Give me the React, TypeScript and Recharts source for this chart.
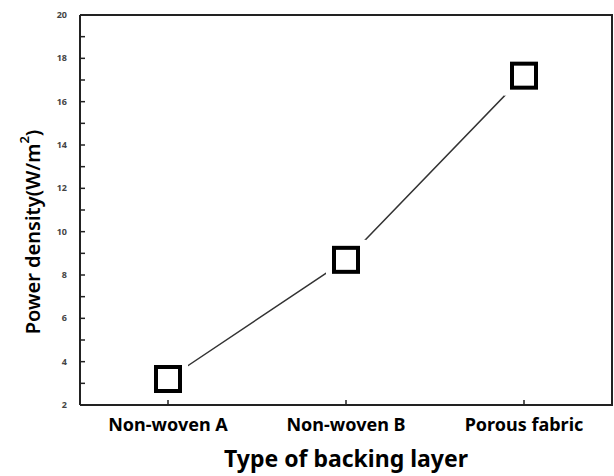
import React from 'react';
import { LineChart, Line, XAxis, YAxis } from 'recharts';

const categories = ['Non-woven A', 'Non-woven B', 'Porous fabric'];
const powerDensity = [3.2, 8.7, 17.2];
const yTicks = [2, 3, 4, 5, 6, 7, 8, 9, 10, 11, 12, 13, 14, 15, 16, 17, 18, 19, 20];
const yLabelTicks = [2, 4, 6, 8, 10, 12, 14, 16, 18, 20];

const data = categories.map((name, i) => ({ name, value: powerDensity[i] }));

const FONT = '"Noto Sans", "Open Sans", sans-serif';
const MARGIN_TOP = 15;
const MARGIN_RIGHT = 2;
const Y_AXIS_W = 80;
const X_AXIS_H = 71;

const YTick = (props: any) => {
  const { x, y, payload } = props;
  if (!yLabelTicks.includes(payload.value)) return <g />;
  return (
    <text x={x} y={y} dy={3} textAnchor="end" fontSize={9} fontWeight="bold" fill="#444" fontFamily={FONT}>
      {payload.value}
    </text>
  );
};

const SquareDot = (props: any) => {
  const { cx, cy } = props;
  if (cx == null || cy == null) return <g />;
  return (
    <g>
      <rect x={cx - 20} y={cy - 20} width={40} height={40} fill="#fff" />
      <rect x={cx - 12} y={cy - 12} width={24} height={24} fill="#fff" stroke="#000" strokeWidth={4} />
    </g>
  );
};

const YLabel = (props: any) => {
  const { viewBox } = props;
  const cx = viewBox.x + 32;
  const cy = viewBox.y + viewBox.height / 2 + 22;
  return (
    <text
      x={cx}
      y={cy}
      transform={`rotate(-90 ${cx} ${cy})`}
      textAnchor="middle"
      dominantBaseline="central"
      fontSize={20}
      fontWeight={600}
      fill="#000"
      fontFamily={FONT}
    >
      Power density(W/m
      <tspan dy={-8} fontSize={13}>2</tspan>
      <tspan dy={8}>)</tspan>
    </text>
  );
};

const XLabel = (props: any) => {
  const { viewBox } = props;
  const { x, y, width, height } = viewBox;
  return (
    <text
      x={x + width / 2}
      y={y + height - 9}
      textAnchor="middle"
      fontSize={23}
      fontWeight="bold"
      fill="#000"
      fontFamily={FONT}
    >
      Type of backing layer
    </text>
  );
};

const axisStroke = { stroke: '#222', strokeWidth: 2 };

export default function App() {
  return (
    <div style={{ position: 'absolute', left: 0, top: 0, width: 614, height: 476, background: '#fff', fontFamily: FONT }}>
      <LineChart width={614} height={476} data={data} margin={{ top: MARGIN_TOP, right: MARGIN_RIGHT, left: 0, bottom: 0 }}>
        <XAxis
          dataKey="name"
          height={X_AXIS_H}
          padding={{ left: 88, right: 88 }}
          interval={0}
          tickSize={-5}
          tickMargin={18}
          axisLine={axisStroke}
          tickLine={{ stroke: '#222', strokeWidth: 1.5 }}
          tick={{ fill: '#000', fontSize: 18, fontWeight: 'bold', fontFamily: FONT }}
          label={{ content: <XLabel /> }}
        />
        <YAxis
          width={Y_AXIS_W}
          domain={[2, 20]}
          ticks={yTicks}
          interval={0}
          tickSize={-5}
          tickMargin={18}
          axisLine={axisStroke}
          tickLine={{ stroke: '#222', strokeWidth: 1.5 }}
          tick={<YTick />}
          label={{ content: <YLabel /> }}
        />
        <Line
          type="linear"
          dataKey="value"
          stroke="#333"
          strokeWidth={1.5}
          dot={<SquareDot />}
          activeDot={false}
          isAnimationActive={false}
        />
      </LineChart>
      {/* top and right edges of the plot frame */}
      <div
        style={{
          position: 'absolute',
          left: Y_AXIS_W,
          top: MARGIN_TOP - 1,
          width: 614 - Y_AXIS_W - MARGIN_RIGHT - 1,
          height: 476 - MARGIN_TOP - X_AXIS_H,
          borderTop: '2px solid #222',
          borderRight: '2px solid #222',
          pointerEvents: 'none',
        }}
      />
    </div>
  );
}
